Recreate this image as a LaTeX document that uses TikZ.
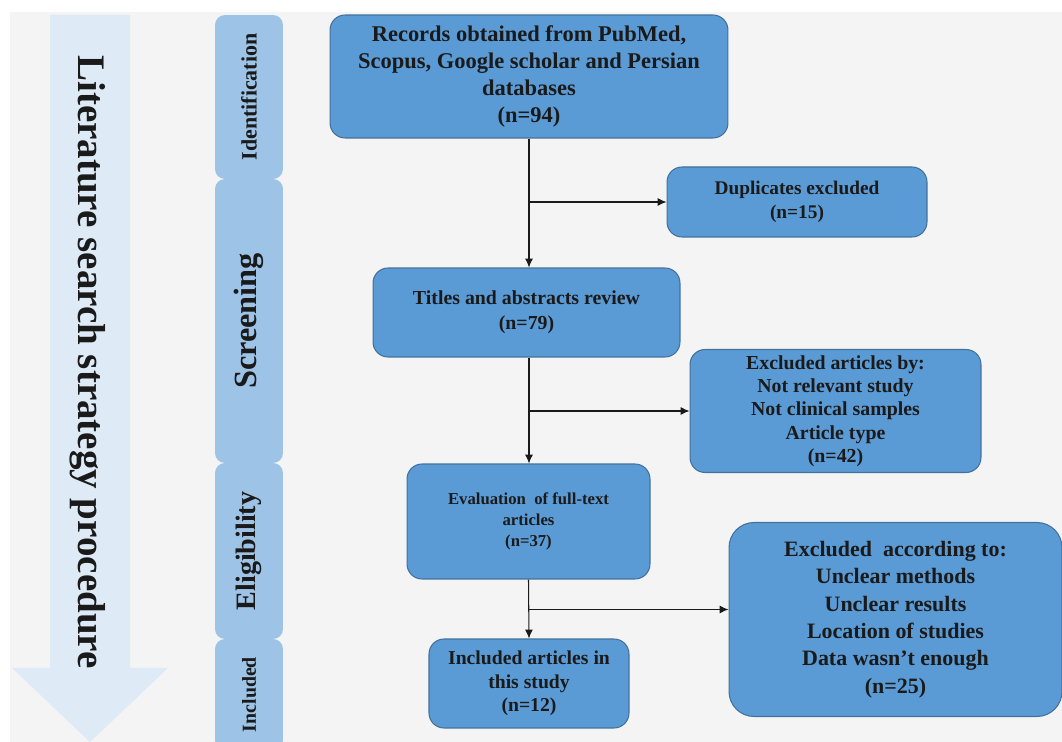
\documentclass[tikz,border=0pt]{standalone}
\usepackage{fontspec}
\setmainfont{Liberation Serif}
\usepackage{tikz}
\usetikzlibrary{arrows.meta}
\definecolor{boxfill}{HTML}{5B9BD5}
\definecolor{boxline}{HTML}{41719C}
\definecolor{phase}{HTML}{9DC3E6}
\definecolor{bigarrow}{HTML}{DEEBF7}
\definecolor{backdrop}{HTML}{F4F4F4}
\definecolor{ink}{HTML}{1A1A1A}
\tikzset{
  stepbox/.style={draw=boxline, fill=boxfill, line width=0.6pt, rounded corners=0.3cm,
    align=center, inner sep=2pt, text=ink},
  phasebox/.style={fill=phase, rounded corners=0.2cm, minimum height=1.36cm,
    inner sep=0pt, rotate=90, text=ink},
  conn/.style={line width=0.6pt, draw=ink, -{Latex[length=5pt,width=4.5pt]}},
  biglab/.style={text=ink, font=\fontsize{22.2}{26}\selectfont\bfseries},
}

\begin{document}
\begin{tikzpicture}[x=0.02cm, y=-0.02cm]
  \useasboundingbox (0,0) rectangle (1062,742);
  \fill[backdrop] (10,12) rectangle (1062,742);   % dotted backdrop

  % big arrow on the left
  \fill[bigarrow] (50,15) -- (130,15) -- (130,668) -- (168,668) -- (90,742)
    -- (12,668) -- (50,668) -- cycle;
  \node[biglab, rotate=-90] (lit) at (88,362) {Literature search strategy procedure};

  % phase column
  \node[phasebox, minimum width=3.28cm, font=\fontsize{12.5}{14}\selectfont\bfseries]
    (idp) at (249,97) {Identification};
  \node[phasebox, minimum width=5.68cm, font=\fontsize{18.4}{20}\selectfont\bfseries]
    (scp) at (249,321) {Screening};
  \node[phasebox, minimum width=3.52cm, font=\fontsize{16}{18}\selectfont\bfseries]
    (elp) at (249,551) {Eligibility};
  \node[phasebox, minimum width=2.22cm, font=\fontsize{11.3}{13}\selectfont\bfseries]
    (inp) at (249,694.5) {Included};

  % flow boxes
  \node[stepbox, minimum width=7.96cm, minimum height=2.46cm,
    font=\fontsize{12.8}{15.2}\selectfont\bfseries] (rec) at (529,76.5)
    {Records obtained from PubMed,\\ Scopus, Google scholar and Persian\\ databases\\ (n=94)};
  \node[stepbox, minimum width=5.2cm, minimum height=1.4cm,
    font=\fontsize{11}{13.6}\selectfont\bfseries] (dup) at (797,202)
    {Duplicates excluded\\ (n=15)};
  \node[stepbox, minimum width=6.14cm, minimum height=1.78cm,
    font=\fontsize{11.3}{14}\selectfont\bfseries] (tit) at (526.5,312.5)
    {Titles and abstracts review\\ (n=79)};
  \node[stepbox, minimum width=5.82cm, minimum height=2.46cm,
    font=\fontsize{11.3}{13.3}\selectfont\bfseries] (exa) at (835.5,411)
    {Excluded articles by:\\ Not relevant study\\ Not clinical samples\\ Article type\\ (n=42)};
  \node[stepbox, minimum width=4.86cm, minimum height=2.3cm,
    font=\fontsize{9.5}{12}\selectfont\bfseries] (eva) at (528.5,521.5)
    {Evaluation \ of full-text\\ articles\\ (n=37)};
  \node[stepbox, minimum width=6.66cm, minimum height=3.88cm, rounded corners=0.5cm,
    font=\fontsize{12.5}{15.6}\selectfont\bfseries] (exc) at (895.5,619.5)
    {Excluded \ according to:\\ Unclear methods\\ Unclear results\\ Location of studies\\
     Data wasn’t enough\\ (n=25)};
  \node[stepbox, minimum width=4.0cm, minimum height=1.78cm,
    font=\fontsize{11.2}{13.5}\selectfont\bfseries] (inc) at (529,683.5)
    {Included articles in\\ this study\\ (n=12)};

  \coordinate (excin) at ([yshift=0.2cm]exc.west);

  % connectors
  \draw[conn] (rec.south) -- (rec.south |- tit.north);
  \draw[conn] (rec.south |- dup.west) -- (dup.west);
  \draw[conn] (rec.south |- tit.south) -- (rec.south |- eva.north);
  \draw[conn] (rec.south |- exa.west) -- (exa.west);
  \draw[conn] (eva.south) -- (inc.north);
  \draw[conn] (eva.south |- excin) -- (excin);
\end{tikzpicture}
\end{document}
